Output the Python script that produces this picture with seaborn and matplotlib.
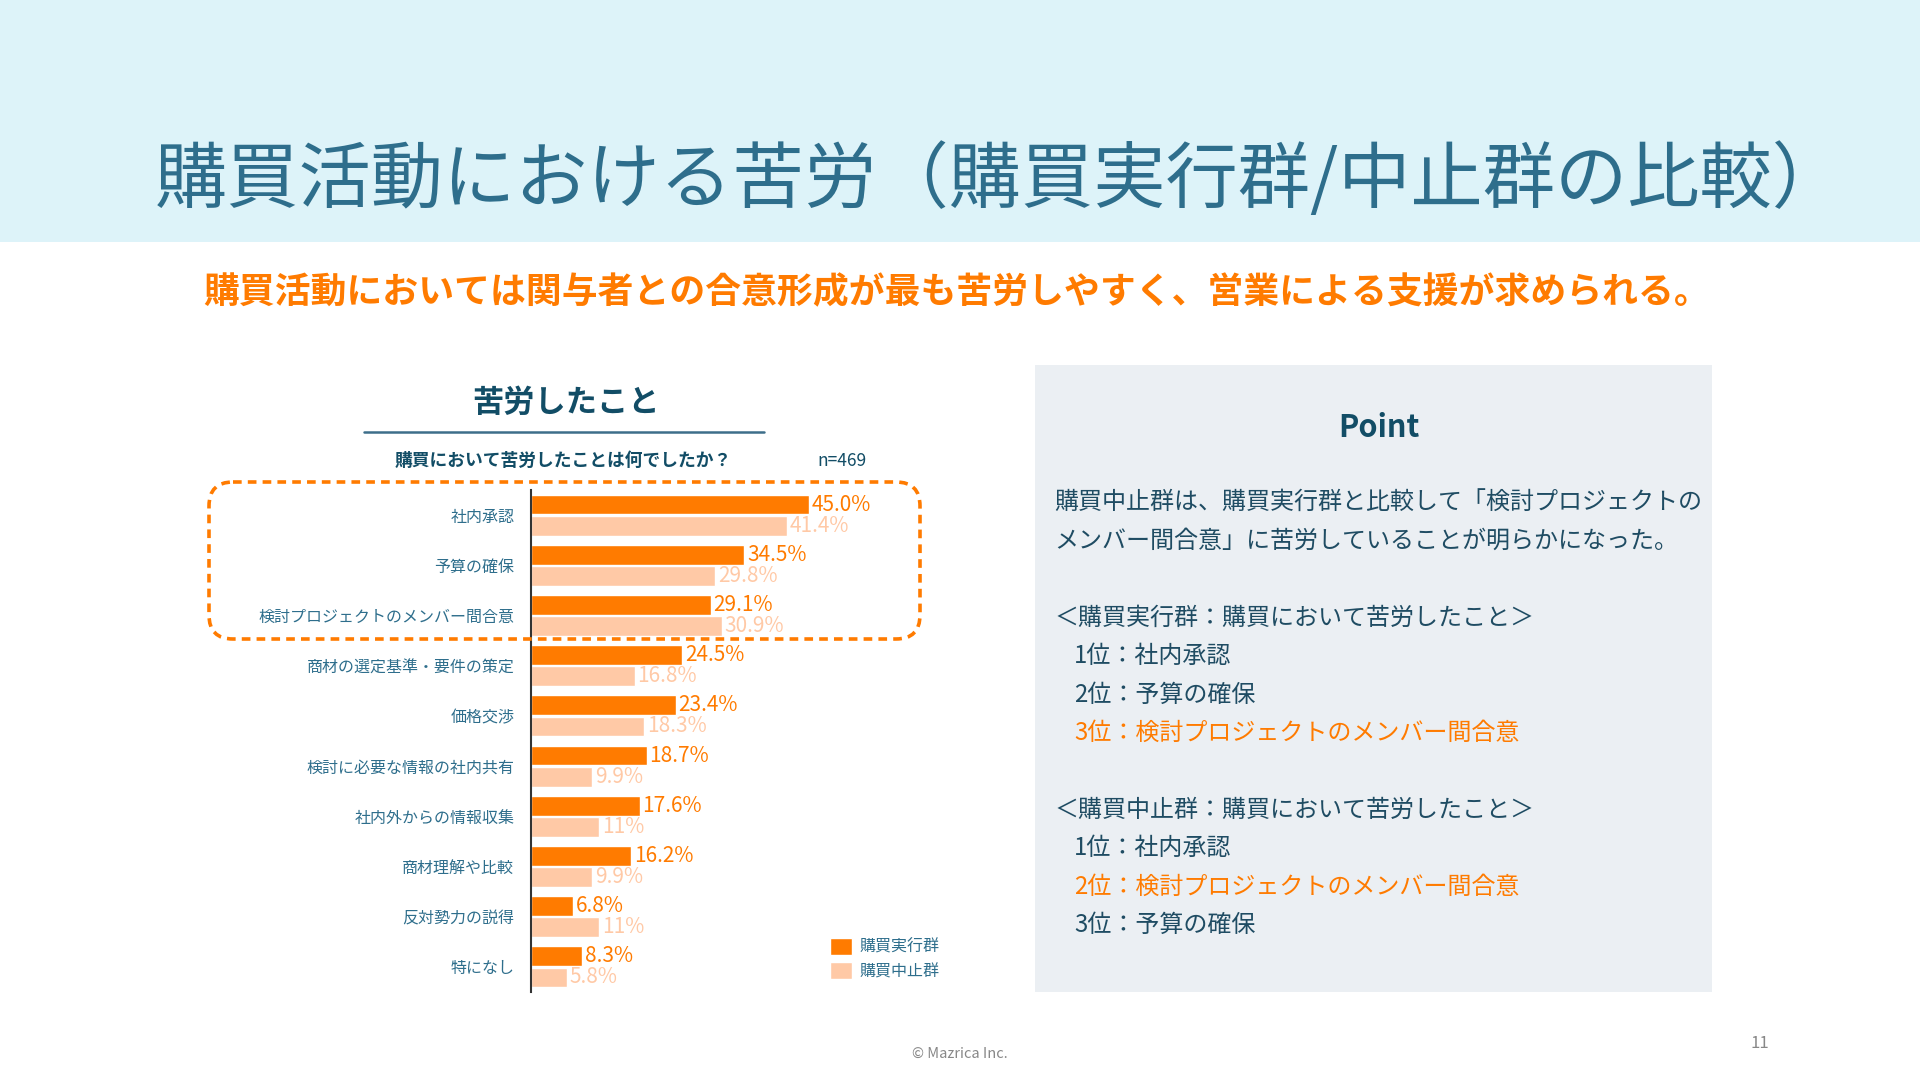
import matplotlib
matplotlib.use("Agg")
import matplotlib.pyplot as plt
from matplotlib.patches import Rectangle, FancyBboxPatch
import seaborn as sns
import pandas as pd

# ---------------- data ----------------
categories = ["社内承認", "予算の確保", "検討プロジェクトのメンバー間合意",
              "商材の選定基準・要件の策定", "価格交渉", "検討に必要な情報の社内共有",
              "社内外からの情報収集", "商材理解や比較", "反対勢力の説得", "特になし"]
groups = ["購買実行群", "購買中止群"]
exec_values = [45.0, 34.5, 29.1, 24.5, 23.4, 18.7, 17.6, 16.2, 6.8, 8.3]
stop_values = [41.4, 29.8, 30.9, 16.8, 18.3, 9.9, 11.0, 9.9, 11.0, 5.8]

title = "購買活動における苦労（購買実行群/中止群の比較）"
subtitle = "購買活動においては関与者との合意形成が最も苦労しやすく、営業による支援が求められる。"
chart_title = "苦労したこと"
question = "購買において苦労したことは何でしたか？"
n_text = "n=469"
point_title = "Point"
point_lines = [
    "購買中止群は、購買実行群と比較して「検討プロジェクトの",
    "メンバー間合意」に苦労していることが明らかになった。",
    "＜購買実行群：購買において苦労したこと＞",
    "1位：社内承認",
    "2位：予算の確保",
    "3位：検討プロジェクトのメンバー間合意",
    "＜購買中止群：購買において苦労したこと＞",
    "1位：社内承認",
    "2位：検討プロジェクトのメンバー間合意",
    "3位：予算の確保",
]
point_highlight = [False, False, False, False, False, True, False, False, True, False]
point_indent = [False, False, False, True, True, True, False, True, True, True]
point_y = [503, 541, 618, 656, 695, 733, 810, 848, 887, 925]
footer = "© Mazrica Inc."
page_no = "11"

# ---------------- style ----------------
ORANGE = "#ff7b00"
LIGHT = "#ffc9a6"
TEAL = "#2e6e8c"
DARK = "#124d66"
TEXT = "#1f4c63"

sns.set_theme(style="white")
plt.rcParams["font.family"] = ["Noto Sans CJK JP", "DejaVu Sans"]

W, H = 1920, 1080
fig = plt.figure(figsize=(W / 100, H / 100), dpi=100)
fig.patch.set_facecolor("white")

# background axes (pixel coordinates)
bg = fig.add_axes([0, 0, 1, 1], zorder=0)
bg.set_xlim(0, W)
bg.set_ylim(H, 0)
bg.axis("off")
bg.add_patch(Rectangle((0, 0), W, 242, color="#ddf3f9", lw=0))
bg.add_patch(Rectangle((1035, 365), 677, 627, color="#ebeff3", lw=0))

# ---------------- bar chart ----------------
df = pd.DataFrame({
    "category": categories * 2,
    "group": [groups[0]] * len(categories) + [groups[1]] * len(categories),
    "value": exec_values + stop_values,
})

ax_left, ax_top, ax_bottom = 531, 490, 992
ax_w = 60 * 6.18
ax = fig.add_axes([ax_left / W, (H - ax_bottom) / H, ax_w / W, (ax_bottom - ax_top) / H], zorder=1)
ax.patch.set_alpha(0)
sns.barplot(data=df, y="category", x="value", hue="group", order=categories,
            hue_order=groups, palette=[ORANGE, LIGHT], orient="h",
            width=0.84, gap=0.06, saturation=1, ax=ax, legend=True)
ax.set_xlim(0, 60)
ax.set_xlabel("")
ax.set_ylabel("")
ax.set_xticks([])
for s in ["top", "right", "bottom"]:
    ax.spines[s].set_visible(False)
ax.spines["left"].set_color("#333333")
ax.spines["left"].set_linewidth(1.5)
ax.tick_params(axis="y", length=0, pad=12, labelsize=11.5, labelcolor=TEAL)

label_sets = [[f"{v:.1f}%" for v in exec_values], [f"{v:g}%" for v in stop_values]]
label_colors = [ORANGE, LIGHT]
for cont, labs, col in zip(ax.containers, label_sets, label_colors):
    ax.bar_label(cont, labels=labs, padding=2, fontsize=15, color=col)

sns.move_legend(ax, loc="center left", bbox_to_anchor=(830 / W, (H - 959) / H),
                bbox_transform=fig.transFigure, frameon=False, title=None,
                fontsize=11.5, borderpad=0, borderaxespad=0, handlelength=1.35,
                handleheight=1.3, handletextpad=0.5, labelspacing=0.38)
for t in ax.get_legend().get_texts():
    t.set_color(TEAL)

# ---------------- overlay texts ----------------
ov = fig.add_axes([0, 0, 1, 1], zorder=2)
ov.patch.set_alpha(0)
ov.set_xlim(0, W)
ov.set_ylim(H, 0)
ov.axis("off")

ov.text(1000, 181, title, fontsize=52, color=TEAL, ha="center", va="center")
ov.text(957, 293, subtitle, fontsize=25.8, color=ORANGE, fontweight="bold",
        ha="center", va="center")
ov.text(566, 403, chart_title, fontsize=22.5, color=DARK, fontweight="bold",
        ha="center", va="center")
ov.plot([364, 764], [432, 432], color="#3d6e8a", lw=1.8)
ov.text(563, 461, question, fontsize=12.8, color=DARK, fontweight="bold",
        ha="center", va="center")
ov.text(842, 461, n_text, fontsize=12.5, color=DARK, ha="center", va="center")

ov.add_patch(FancyBboxPatch((209, 482), 711, 157,
                            boxstyle="round,pad=0,rounding_size=24",
                            fc="none", ec=ORANGE, lw=2.6, ls=(0, (2.4, 1.7))))

ov.text(1379, 428, point_title, fontsize=22, color=DARK, fontweight="bold",
        ha="center", va="center")
for txt, y, hl, ind in zip(point_lines, point_y, point_highlight, point_indent):
    ov.text(1074 if ind else 1054, y, txt, fontsize=17.3,
            color=ORANGE if hl else TEXT, ha="left", va="center")

ov.text(960, 1054, footer, fontsize=10.5, color="#888888", ha="center", va="center")
ov.text(1760, 1044, page_no, fontsize=12, color="#888888", ha="center", va="center")

fig.savefig("out.png", dpi=100)
